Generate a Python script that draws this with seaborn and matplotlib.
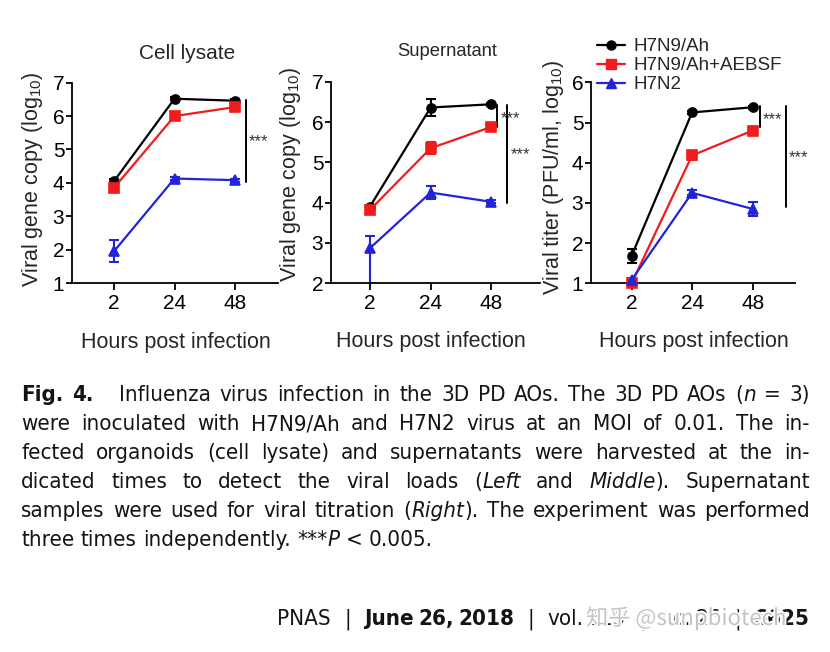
import re
import numpy as np
import matplotlib
matplotlib.use("Agg")
import matplotlib.pyplot as plt
import matplotlib.patheffects as pe
from matplotlib.lines import Line2D
import seaborn as sns

# ---- data ----
hours = ["2", "24", "48"]
viruses = ["H7N9/Ah", "H7N9/Ah+AEBSF", "H7N2"]

lysate_ah = [4.05, 6.52, 6.46]
lysate_ah_sd = [0.08, 0.04, 0.04]
lysate_aebsf = [3.85, 6.00, 6.27]
lysate_aebsf_sd = [0.10, 0.08, 0.10]
lysate_h7n2 = [1.95, 4.13, 4.08]
lysate_h7n2_sd = [0.33, 0.05, 0.04]

super_ah = [3.90, 6.36, 6.44]
super_ah_sd = [0.05, 0.20, 0.04]
super_aebsf = [3.82, 5.35, 5.88]
super_aebsf_sd = [0.06, 0.15, 0.05]
super_h7n2 = [2.87, 4.25, 4.02]
super_h7n2_sd_lo = [0.90, 0.17, 0.04]
super_h7n2_sd_hi = [0.30, 0.17, 0.04]

titer_ah = [1.68, 5.25, 5.38]
titer_ah_sd = [0.17, 0.03, 0.04]
titer_aebsf = [1.00, 4.18, 4.80]
titer_aebsf_sd = [0.04, 0.12, 0.10]
titer_h7n2 = [1.08, 3.25, 2.85]
titer_h7n2_sd = [0.04, 0.06, 0.18]

caption_lines = [
    [("Fig. 4.", "b"), ("   Influenza virus infection in the 3D PD AOs. The 3D PD AOs (", "n"), ("n", "i"), (" = 3)", "n")],
    [("were inoculated with H7N9/Ah and H7N2 virus at an MOI of 0.01. The in-", "n")],
    [("fected organoids (cell lysate) and supernatants were harvested at the in-", "n")],
    [("dicated times to detect the viral loads (", "n"), ("Left", "i"), (" and ", "n"), ("Middle", "i"), ("). Supernatant", "n")],
    [("samples were used for viral titration (", "n"), ("Right", "i"), ("). The experiment was performed", "n")],
    [("three times independently. ***", "n"), ("P", "i"), (" < 0.005.", "n")],
]
footer = [("PNAS", "n"), ("   |   ", "n"), ("June 26, 2018", "b"), ("   |   ", "n"),
          ("vol. 115", "n"), ("   |   ", "n"), ("no. 26", "n"), ("   |   ", "n"), ("6625", "b")]

COLORS = ["#000000", "#f21b1b", "#2323d8"]
MARKERS = ["o", "s", "^"]
MSIZES = [6.5, 7.5, 6.5]

sns.set_style("ticks")
plt.rcParams["font.family"] = ["Liberation Sans", "DejaVu Sans"]
plt.rcParams["mathtext.default"] = "regular"

W, H = 830, 652
fig = plt.figure(figsize=(W / 100, H / 100), dpi=100)


def px_axes(left, top, right, bottom):
    return fig.add_axes([left / W, 1 - bottom / H, (right - left) / W, (bottom - top) / H])


def draw_panel(ax, series, xlim, ylim, ylabel, ylab_pos, xlab_pos, sig):
    pos = np.arange(len(hours))
    for (mean, lo, hi), color, marker, ms in zip(series, COLORS, MARKERS, MSIZES):
        ax.errorbar(pos, mean, yerr=[lo, hi], fmt="none", ecolor=color,
                    elinewidth=1.5, capsize=3.5, capthick=1.5, zorder=2)
        sns.pointplot(x=hours, y=mean, order=hours, color=color, markers=marker,
                      markersize=ms, linewidth=1.6, errorbar=None, ax=ax,
                      clip_on=False, zorder=3)
    ax.set_xlim(*xlim)
    ax.set_ylim(*ylim)
    ax.set_yticks(range(ylim[0], ylim[1] + 1))
    sns.despine(ax=ax)
    for s in ["left", "bottom"]:
        ax.spines[s].set_linewidth(1.3)
        ax.spines[s].set_color("black")
    ax.tick_params(axis="both", labelsize=15, width=1.3, colors="black")
    ax.tick_params(axis="y", length=4, pad=1.5)
    ax.tick_params(axis="x", length=5, pad=3)
    ax.set_ylabel(ylabel, fontsize=15.5)
    ax.yaxis.set_label_coords(*ylab_pos)
    ax.yaxis.label.set_va("center")
    ax.set_xlabel("Hours post infection", fontsize=15.5)
    ax.xaxis.set_label_coords(*xlab_pos)
    ax.xaxis.label.set_va("center")
    for bx, y0, y1, tx, ty in sig:
        ax.plot([bx, bx], [y0, y1], color="black", lw=1.4, clip_on=False)
        ax.text(tx, ty, "***", fontsize=12, color="#333333", ha="left", va="center")


ax1 = px_axes(72, 82.7, 278, 283)
ax2 = px_axes(331, 81.7, 540, 283.3)
ax3 = px_axes(591, 82.3, 795, 283.3)

draw_panel(ax1,
           [(lysate_ah, lysate_ah_sd, lysate_ah_sd),
            (lysate_aebsf, lysate_aebsf_sd, lysate_aebsf_sd),
            (lysate_h7n2, lysate_h7n2_sd, lysate_h7n2_sd)],
           (-0.694, 2.71), (1, 7), "Viral gene copy (log$_{10}$)",
           (-0.194, 0.52), (0.505, -0.295),
           [(2.18, 6.48, 4.04, 2.23, 5.22)])
draw_panel(ax2,
           [(super_ah, super_ah_sd, super_ah_sd),
            (super_aebsf, super_aebsf_sd, super_aebsf_sd),
            (super_h7n2, super_h7n2_sd_lo, super_h7n2_sd_hi)],
           (-0.64, 2.80), (2, 7), "Viral gene copy (log$_{10}$)",
           (-0.196, 0.54), (0.478, -0.291),
           [(2.10, 6.42, 5.88, 2.16, 6.09), (2.26, 6.42, 3.98, 2.32, 5.19)])
draw_panel(ax3,
           [(titer_ah, titer_ah_sd, titer_ah_sd),
            (titer_aebsf, titer_aebsf_sd, titer_aebsf_sd),
            (titer_h7n2, titer_h7n2_sd, titer_h7n2_sd)],
           (-0.67, 2.70), (1, 6), "Viral titer (PFU/ml, log$_{10}$)",
           (-0.186, 0.526), (0.502, -0.29),
           [(2.12, 5.41, 4.88, 2.17, 5.06), (2.55, 5.41, 2.89, 2.59, 4.13)])

fig.text(187.5 / W, 1 - 53.3 / H, "Cell lysate", fontsize=15, ha="center", va="center")
fig.text(446.7 / W, 1 - 51.7 / H, "Supernatant", fontsize=13.2, ha="center", va="center")

handles = [Line2D([], [], color=c, marker=m, markersize=ms, lw=1.6)
           for c, m, ms in zip(COLORS, MARKERS, MSIZES)]
fig.legend(handles, viruses, loc="upper left", bbox_to_anchor=(597 / W, 1 - 38 / H),
           frameon=False, fontsize=13.5, handlelength=1.5, handletextpad=0.45,
           labelspacing=0.1, borderpad=0, borderaxespad=0)

# ---- caption, justified like the journal page ----
CAP_FAMILY = ["DejaVu Sans"]
STYLE = {"n": {}, "b": {"weight": "bold"}, "i": {"style": "italic"}}
renderer = fig.canvas.get_renderer()


def tokenize(runs):
    tokens = []
    for txt, style in runs:
        for part in re.split(r"( +)", txt):
            if not part:
                continue
            if part[0] == " ":
                tokens.append(["s", len(part)])
            elif tokens and tokens[-1][0] == "w":
                tokens[-1][1].append((part, style))
            else:
                tokens.append(["w", [(part, style)]])
    return tokens


def text_width(txt, style, size):
    t = fig.text(0, 0, txt, fontsize=size, family=CAP_FAMILY, stretch="condensed", **STYLE[style])
    w = t.get_window_extent(renderer).width
    t.remove()
    return w


def natural_width(runs, size):
    tokens = tokenize(runs)
    sp = text_width("a a", "n", size) - text_width("aa", "n", size)
    w = 0
    for kind, val in tokens:
        if kind == "s":
            w += val * sp
        else:
            w += sum(text_width(p, s, size) for p, s in val)
    return w


def draw_runs(runs, y, x0, x1, size, justify=True, color="#141414"):
    tokens = tokenize(runs)
    widths = []
    gaps = 0
    for kind, val in tokens:
        if kind == "s":
            gaps += val
        else:
            widths.append([text_width(p, s, size) for p, s in val])
    total = sum(sum(w) for w in widths)
    if justify and gaps:
        unit = (x1 - x0 - total) / gaps
    else:
        unit = text_width("a a", "n", size) - text_width("aa", "n", size)
    x = x0
    wi = 0
    for kind, val in tokens:
        if kind == "s":
            x += val * unit
            continue
        for (p, s), w in zip(val, widths[wi]):
            fig.text(x / W, 1 - y / H, p, fontsize=size, family=CAP_FAMILY, stretch="condensed",
                     color=color, ha="left", va="baseline", **STYLE[s])
            x += w
        wi += 1


x0, x1 = 21, 810
ref = max(natural_width(line, 10) for line in caption_lines[:-1])
cap_size = min(16, 10 * (x1 - x0) / ref * 0.995)
for i, line in enumerate(caption_lines):
    draw_runs(line, 401 + i * 29, x0, x1, cap_size, justify=(i < len(caption_lines) - 1))

draw_runs(footer, 625, 277, 810, cap_size)
fig.text(586 / W, 1 - 625 / H, "知乎 @sunpbiotech", fontsize=16, color="#c4c4c4",
         family=["Noto Sans CJK SC", "DejaVu Sans"], ha="left", va="baseline",
         path_effects=[pe.withStroke(linewidth=2.5, foreground="white")], zorder=5)

fig.savefig("out.png", dpi=100)
